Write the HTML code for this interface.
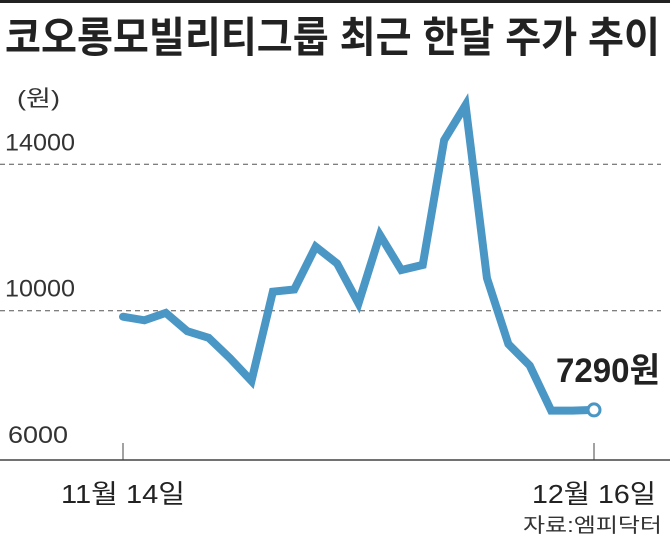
<!DOCTYPE html>
<html><head><meta charset="utf-8"><style>
html,body{margin:0;padding:0;background:#fff;}
svg{display:block;font-family:"Liberation Sans","Noto Sans CJK KR","NanumGothic",sans-serif;}
</style></head><body>
<svg id="chart" width="670" height="549" viewBox="0 0 670 549" xmlns="http://www.w3.org/2000/svg">
<rect x="0" y="0" width="670" height="3" fill="#222"/>
<text x="5" y="52" font-size="42" font-weight="bold" fill="#222" textLength="655" lengthAdjust="spacingAndGlyphs">코오롱모빌리티그룹 최근 한달 주가 추이</text>
<text x="17" y="106" font-size="22" fill="#333" textLength="43" lengthAdjust="spacingAndGlyphs">(원)</text>
<g id="grid"></g>
<g id="ylabels"></g>
<line x1="0" y1="460" x2="670" y2="460" stroke="#444" stroke-width="1.5"/>
<g id="xticks"></g>
<polyline id="line" fill="none" stroke="#4a96c4" stroke-width="8" stroke-linejoin="miter" stroke-linecap="round"/>
<circle id="endpt" r="6" fill="#fff" stroke="#4a96c4" stroke-width="3"/>
<text id="endlabel" x="556" y="382" font-size="34" font-weight="bold" fill="#222" textLength="104" lengthAdjust="spacingAndGlyphs">7290원</text>
<text x="523" y="532" font-size="20" fill="#333" textLength="139" lengthAdjust="spacingAndGlyphs">자료:엠피닥터</text>
</svg>
<script>
const prices = [9836,9738,9940,9440,9260,8700,8080,10520,10580,11750,11290,10200,12070,11110,11250,14660,15620,10890,9090,8500,7270,7270,7290];
const yTicks = [14000,10000,6000];
const yTickLabels = ["14000","10000","6000"];
const gridValues = [14000,10000];
const xTickIndex = [0,22];
const xTickLabels = ["11월 14일","12월 16일"];

const NS="http://www.w3.org/2000/svg";
function yScale(v){return 310.7-(v-10000)*0.0366;}
function xScale(i){return 123+i*(594-123)/(prices.length-1);}

const grid=document.getElementById('grid');
gridValues.forEach(v=>{
  const l=document.createElementNS(NS,'line');
  l.setAttribute('x1',0);l.setAttribute('x2',661);
  l.setAttribute('y1',yScale(v));l.setAttribute('y2',yScale(v));
  l.setAttribute('stroke','#555');l.setAttribute('stroke-dasharray','5,4');l.setAttribute('stroke-width','1');
  
  
  grid.appendChild(l);
});
const yl=document.getElementById('ylabels');
yTicks.forEach((v,i)=>{
  const t=document.createElementNS(NS,'text');
  t.setAttribute('x',i===2?8:5);t.setAttribute('y',yScale(v)-14);
  t.setAttribute('font-size','24');t.setAttribute('fill','#333');
  t.setAttribute('textLength',i===2?60:70);t.setAttribute('lengthAdjust','spacingAndGlyphs');
  t.textContent=yTickLabels[i];
  
  
  yl.appendChild(t);
});
const xt=document.getElementById('xticks');
xTickIndex.forEach((idx,i)=>{
  const x=xScale(idx);
  const l=document.createElementNS(NS,'line');
  l.setAttribute('x1',x);l.setAttribute('x2',x);l.setAttribute('y1',443);l.setAttribute('y2',460);
  l.setAttribute('stroke','#444');l.setAttribute('stroke-width','1');
  
  
  xt.appendChild(l);
  const t=document.createElementNS(NS,'text');
  t.setAttribute('x',x);t.setAttribute('y',503);t.setAttribute('text-anchor','middle');
  t.setAttribute('font-size','26');t.setAttribute('fill','#222');
  t.setAttribute('textLength','124');t.setAttribute('lengthAdjust','spacingAndGlyphs');
  t.textContent=xTickLabels[i];
  
  
  xt.appendChild(t);
});
document.getElementById('line').setAttribute('points',prices.map((v,i)=>xScale(i)+','+yScale(v)).join(' '));
const last=prices.length-1;
const ep=document.getElementById('endpt');
ep.setAttribute('cx',xScale(last));ep.setAttribute('cy',yScale(prices[last]));
document.getElementById('endlabel').textContent=prices[last]+'원';
</script>
</body></html>
